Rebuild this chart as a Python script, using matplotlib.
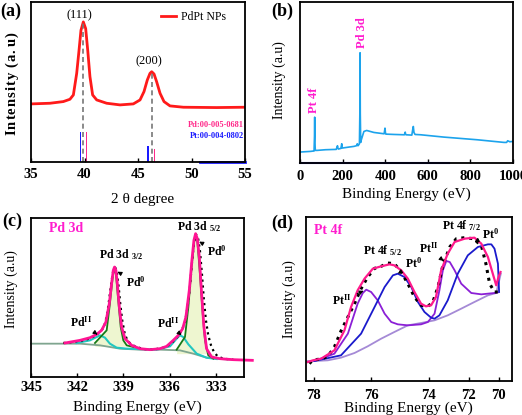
import matplotlib
matplotlib.use('Agg')
import matplotlib.pyplot as plt

plt.rcParams['font.family'] = ['Liberation Serif', 'DejaVu Serif']
plt.rcParams['font.weight'] = 'bold'
plt.rcParams['mathtext.fontset'] = 'custom'
plt.rcParams['mathtext.rm'] = 'Liberation Serif:bold'
plt.rcParams['mathtext.it'] = 'Liberation Serif:bold'
plt.rcParams['mathtext.bf'] = 'Liberation Serif:bold'

MAG = '#ff1dce'

# ---- (a) XRD ----
xrd_2theta = [35.0, 36.78, 38.02, 38.64, 38.96, 39.27, 39.49, 39.67, 39.89, 40.11, 40.30, 40.51,
              40.76, 41.14, 42.07, 43.32, 44.56, 45.19, 45.56, 45.87, 46.12, 46.28, 46.50, 46.74,
              47.06, 47.43, 47.99, 49.24, 52.35, 55.0]
xrd_int = [175, 177, 182, 189, 202, 267, 337, 397, 422, 402, 337, 257,
           202, 187, 177, 172, 175, 187, 212, 247, 267, 272, 265, 242,
           207, 182, 169, 165, 164, 165]
peak_pos = [39.89, 46.28]
peak_top = [420, 270]
peak_names = ['(111)', '(200)']
peak_label_pos = [(39.5, 442), (45.97, 302)]
pt_ref_pos = [39.61, 45.93]
pt_ref_int = [89, 49]
pd_ref_pos = [40.17, 46.53]
pd_ref_int = [90, 38]

# ---- (b) survey ----
survey_be = [0, 50, 62, 66, 68, 69, 70, 72, 80, 120, 170, 176, 178, 180, 192, 196, 198, 230, 253,
             265, 269, 272, 276, 279, 281, 282, 283, 285, 288, 300, 313, 347, 395, 399, 401,
             403, 441, 490, 494, 496, 498, 525, 529, 532, 535, 540, 567, 676, 832, 958, 970,
             975, 985, 1000]
survey_int = [33, 35, 36, 36, 80, 138, 60, 38, 38, 40, 41, 52, 45, 42, 44, 58, 45, 48, 50,
              52, 58, 52, 55, 58, 150, 332, 150, 62, 70, 95, 98, 92, 88, 105, 92,
              87, 86, 85, 93, 86, 85, 84, 100, 110, 92, 86, 85, 78, 70, 62, 62,
              67, 64, 65]

# ---- (c) Pd 3d ----
c_env_be = [342.79, 341.82, 341.17, 340.74, 340.42, 340.14, 339.92, 339.77, 339.66, 339.58, 339.49,
            339.40, 339.27, 339.12, 338.90, 338.47, 337.93, 337.28, 336.63, 336.20, 335.77, 335.44,
            335.16, 334.95, 334.73, 334.56, 334.43, 334.32, 334.21, 334.08, 333.93, 333.78, 333.61,
            333.28, 332.74, 331.88, 330.64]
c_env_int = [102, 110, 118, 128, 140, 165, 220, 280, 320, 330, 320,
             280, 210, 150, 115, 95, 85, 82, 85, 92, 110, 125,
             145, 180, 260, 350, 410, 430, 415, 360, 250, 150, 85,
             60, 55, 52, 50]
c_dat_be = [342.90, 342.47, 342.04, 341.61, 341.17, 340.85, 340.52, 340.26, 340.05, 339.88, 339.75,
            339.64, 339.53, 339.42, 339.31, 339.21, 339.08, 338.92, 338.73, 338.47, 338.15, 337.71,
            337.28, 336.85, 336.42, 336.09, 335.77, 335.51, 335.23, 335.01, 334.84, 334.69, 334.56,
            334.43, 334.30, 334.17, 334.04, 333.91, 333.78, 333.65, 333.50, 333.32, 333.13, 332.91,
            332.63, 332.31, 331.88]
c_dat_int = [102, 104, 107, 110, 116, 124, 135, 150, 190, 250, 295,
             325, 328, 310, 270, 220, 170, 130, 108, 97, 90, 84,
             82, 84, 88, 95, 107, 120, 138, 165, 210, 270, 340,
             400, 428, 420, 380, 310, 230, 170, 125, 95, 75, 63,
             57, 54, 52]
c_bg_be = [345.0, 341.82, 340.52, 339.23, 337.93, 336.63, 335.34, 334.47, 333.61, 332.74, 331.88]
c_bg_int = [100, 100, 95, 85, 82, 82, 80, 70, 58, 54, 52]
c_pd0a_be = [340.85, 340.09, 339.88, 339.70, 339.59, 339.49, 339.34, 339.18, 339.01, 338.79, 338.36]
c_pd0a_int = [102, 140, 220, 300, 325, 310, 230, 150, 110, 95, 90]
c_pd0b_be = [335.55, 335.01, 334.79, 334.58, 334.41, 334.32, 334.21, 334.04, 333.86, 333.71, 333.50,
             333.17]
c_pd0b_int = [82, 120, 210, 330, 410, 425, 410, 310, 190, 110, 65, 55]
c_pdii_be = [342.04, 341.17, 340.74, 340.52, 340.20, 339.88, 339.44, 338.79, 336.85, 335.98, 335.55,
             335.34, 335.12, 334.79, 334.25, 333.61, 332.96]
c_pdii_int = [102, 110, 120, 125, 118, 100, 88, 85, 82, 92, 115,
              125, 120, 98, 70, 58, 54]

# ---- (d) Pt 4f ----
d_bg_be = [78.21, 77.98, 77.51, 77.05, 76.58, 76.12, 75.65, 75.19, 74.72, 74.26, 73.79, 73.33, 72.86,
           72.40, 71.93, 71.64, 71.48]
d_bg_int = [60, 60, 62, 70, 84, 104, 127, 147, 167, 174, 182, 197, 217, 237, 257, 264, 322]
d_ptii_be = [77.98, 77.28, 76.81, 76.47, 76.29, 76.17, 76.00, 75.77, 75.53, 75.30, 75.07, 74.72, 74.26,
             74.02, 73.79, 73.62, 73.50, 73.38, 73.26, 73.09, 72.86, 72.51, 72.16, 71.70, 71.58]
d_ptii_int = [60, 82, 142, 232, 264, 274, 267, 242, 202, 177, 170, 167, 170,
              177, 202, 272, 332, 360, 357, 332, 292, 264, 260, 264, 266]
d_pt0_be = [77.98, 77.05, 76.35, 75.88, 75.53, 75.24, 75.07, 74.84, 74.60, 74.37, 74.14, 73.91, 73.79,
            73.62, 73.33, 72.98, 72.63, 72.28, 71.93, 71.81, 71.70, 71.58, 71.54]
d_pt0_int = [60, 77, 142, 222, 282, 317, 322, 312, 282, 237, 207, 190, 187,
             197, 242, 322, 377, 402, 410, 410, 397, 352, 267]
d_env_be = [78.21, 78.03, 77.74, 77.28, 76.93, 76.70, 76.47, 76.23, 75.94, 75.65, 75.36, 75.19, 74.95,
            74.72, 74.49, 74.26, 74.09, 73.91, 73.74, 73.56, 73.33, 73.09, 72.74, 72.40, 72.16, 71.93,
            71.76, 71.64, 71.56, 71.49]
d_env_int = [57, 62, 67, 92, 152, 222, 272, 307, 337, 344, 350, 347, 332,
             307, 267, 232, 224, 227, 252, 332, 382, 417, 427, 430, 412, 372, 322, 287, 312, 327]
d_dat_be = [78.15, 78.05, 77.95, 77.74, 77.51, 77.28, 77.05, 76.81, 76.58, 76.35, 76.12, 75.88, 75.65,
            75.42, 75.19, 74.95, 74.72, 74.49, 74.26, 74.02, 73.85, 73.67, 73.50, 73.26, 73.03, 72.74,
            72.45, 72.16, 72.00, 71.87, 71.70, 71.58]
d_dat_int = [52, 62, 64, 66, 74, 102, 150, 192, 232, 277, 312, 338, 344,
             354, 352, 327, 292, 252, 227, 224, 237, 282, 347, 402, 427, 430, 427, 407, 352, 292, 267, 267]
d_ticks = [78, 76, 74, 72.6, 71.56]
d_ticklabels = ['78', '76', '74', '72', '70']

fig = plt.figure(figsize=(5.22, 4.15), dpi=100)
arrow = dict(arrowstyle='-|>', color='black', lw=0.8, mutation_scale=6)

# letter-spaced y label of panel (a)
gap = r'\hspace{0.09}'
spaced_label = r'$\mathrm{' + gap.join('Intensity') + r'\ ' + gap.join('(a.u)') + '}$'

# ================= (a)
ax = fig.add_axes([31/522, 1-162/415, 214/522, 160/415])
ax.plot(xrd_2theta, xrd_int, color='#ff1a1a', lw=2, label='PdPt NPs')
for x, top in zip(peak_pos, peak_top):
    ax.plot([x, x], [0, top], color='#777777', ls=(0, (3, 2)), lw=1.2)
for (lx, ly), name in zip(peak_label_pos, peak_names):
    ax.text(lx, ly, name, ha='center', va='center', fontsize=9, fontweight='normal')
ax.bar(pt_ref_pos, pt_ref_int, width=0.12, color='#1a1aff')
ax.bar(pd_ref_pos, pd_ref_int, width=0.12, color='#ff2a8a')
ax.plot([50.8, 55], [0, 0], color='#1a1aff', lw=2, clip_on=False)
ax.text(54.9, 111, 'Pd:00-005-0681', color='#ff2a8a', fontsize=6, ha='right', va='center')
ax.text(54.9, 79, 'Pt:00-004-0802', color='#1a1aff', fontsize=6, ha='right', va='center')
ax.set_xlim(35, 55)
ax.set_ylim(0, 482)
ax.set_xticks([35, 40, 45, 50, 55])
ax.set_yticks([])
leg = ax.legend(loc='center right', bbox_to_anchor=(0.91, 0.906), frameon=False, fontsize=8.5,
                handlelength=1.3, borderaxespad=0, borderpad=0, handletextpad=0.4)
for t in leg.get_texts():
    t.set_fontweight('normal')
ax.set_xlabel('2 θ degree', fontsize=11)
ax.xaxis.set_label_coords(0.52, -0.194)
ax.set_ylabel(spaced_label, fontsize=10.5)
ax.yaxis.set_label_coords(-0.047, 0.49)
ax.tick_params(axis='x', pad=4.3)
fig.text(0.0, 1 - 3/415, '(a)', fontsize=13, va='top', ha='left')

# ================= (b)
ax = fig.add_axes([300/522, 1-163/415, 213/522, 161/415])
ax.plot(survey_be, survey_int, color='#1ca3ec', lw=1.2)
ax.plot([0, 700], [0, 0], color='#2222cc', lw=1.5, clip_on=False)
ax.text(65, 190, 'Pt 4f', color=MAG, rotation=90, fontsize=9, ha='center', va='center')
ax.text(293, 392, 'Pd 3d', color=MAG, rotation=90, fontsize=9, ha='center', va='center')
ax.set_xlim(0, 1000)
ax.set_ylim(0, 485)
ax.set_xticks([0, 200, 400, 600, 800, 1000])
ax.set_yticks([])
ax.set_xlabel('Binding Energy (eV)', fontsize=11)
ax.xaxis.set_label_coords(0.5, -0.155)
ax.set_ylabel('Intensity (a.u)', fontsize=10)
ax.yaxis.set_label_coords(-0.066, 0.515)
ax.tick_params(axis='x', pad=5)
fig.text(271/522, 1 - 3/415, '(b)', fontsize=13, va='top', ha='left')

# ================= (c)
ax = fig.add_axes([31/522, 1-377/415, 213/522, 159/415])
ax.fill_between(c_pd0a_be, c_pd0a_int, 92, color='#eef6d0', lw=0)
ax.fill_between(c_pd0b_be, c_pd0b_int, 70, color='#eef6d0', lw=0)
ax.plot(c_bg_be, c_bg_int, color='#7fa58f', lw=1.3, clip_on=False)
ax.plot(c_pdii_be, c_pdii_int, color='#22c7c0', lw=1.5)
ax.plot(c_pd0a_be, c_pd0a_int, color='#167a16', lw=1.3)
ax.plot(c_pd0b_be, c_pd0b_int, color='#167a16', lw=1.3)
ax.plot(c_dat_be, c_dat_int, ls=':', lw=1.6, color='black')
ax.plot(c_env_be, c_env_int, color='#ff1493', lw=2, clip_on=False)
ax.text(342.7, 447, 'Pd 3d', color=MAG, fontsize=10, ha='center', va='center')
ax.text(339.12, 368, 'Pd 3d $_{3/2}$', fontsize=8.5, ha='center', va='center')
ax.text(334.1, 450, 'Pd 3d $_{5/2}$', fontsize=8.5, ha='center', va='center')
ax.annotate('Pd$^{0}$', xy=(339.55, 320), xytext=(338.19, 285), fontsize=8.5, ha='center',
            va='center', arrowprops=arrow)
ax.annotate('Pd$^{0}$', xy=(334.25, 410), xytext=(332.96, 378), fontsize=8.5, ha='center',
            va='center', arrowprops=arrow)
ax.annotate('Pd$^{II}$', xy=(340.68, 127), xytext=(341.78, 165), fontsize=8.5, ha='center',
            va='center', arrowprops=arrow)
ax.annotate('Pd$^{II}$', xy=(335.23, 125), xytext=(336.09, 160), fontsize=8.5, ha='center',
            va='center', arrowprops=arrow)
ax.set_xlim(345, 331.18)
ax.set_ylim(0, 477)
ax.set_xticks([345, 342, 339, 336, 333])
ax.set_yticks([])
ax.set_xlabel('Binding Energy (eV)', fontsize=11)
ax.xaxis.set_label_coords(0.5, -0.145)
ax.set_ylabel('Intensity (a.u)', fontsize=10)
ax.yaxis.set_label_coords(-0.061, 0.553)
ax.tick_params(axis='x', pad=3)
fig.text(2/522, 1 - 213/415, '(c)', fontsize=13, va='top', ha='left')

# ================= (d)
ax = fig.add_axes([306/522, 1-381/415, 206/522, 164/415])
ax.plot(d_bg_be, d_bg_int, color='#a58ad6', lw=1.3)
ax.plot(d_ptii_be, d_ptii_int, color='#8b1fd6', lw=1.3)
ax.plot(d_pt0_be, d_pt0_int, color='#1a1acc', lw=1.3)
ax.plot(d_dat_be, d_dat_int, ls=(0, (1, 1.6)), lw=2.2, color='black')
ax.plot(d_env_be, d_env_int, color='#ff1a8c', lw=1.6)
ax.text(77.5, 452, 'Pt 4f', color=MAG, fontsize=10, ha='center', va='center')
ax.text(75.6, 392, 'Pt 4f $_{5/2}$', fontsize=8.5, ha='center', va='center')
ax.text(72.86, 467, 'Pt 4f $_{7/2}$', fontsize=8.5, ha='center', va='center')
ax.annotate('Pt$^{0}$', xy=(75.07, 322), xytext=(74.52, 352), fontsize=8.5, ha='center',
            va='center', arrowprops=arrow)
ax.annotate('Pt$^{0}$', xy=(72.40, 417), xytext=(71.85, 440), fontsize=8.5, ha='center',
            va='center', arrowprops=arrow)
ax.annotate('Pt$^{II}$', xy=(76.17, 274), xytext=(77.01, 242), fontsize=8.5, ha='center',
            va='center', arrowprops=arrow)
ax.annotate('Pt$^{II}$', xy=(73.47, 360), xytext=(74.0, 397), fontsize=8.5, ha='center',
            va='center', arrowprops=arrow)
ax.set_xlim(78.27, 71.09)
ax.set_ylim(0, 492)
ax.set_xticks(d_ticks)
ax.set_xticklabels(d_ticklabels)
ax.set_yticks([])
ax.set_xlabel('Binding Energy (eV)', fontsize=11)
ax.xaxis.set_label_coords(0.495, -0.125)
ax.set_ylabel('Intensity (a.u)', fontsize=10)
ax.yaxis.set_label_coords(-0.049, 0.5)
ax.tick_params(axis='x', pad=6)
fig.text(271/522, 1 - 215/415, '(d)', fontsize=13, va='top', ha='left')

for a in fig.axes:
    for s in a.spines.values():
        s.set_linewidth(1.3)
    a.tick_params(axis='x', labelsize=10.5, direction='in', length=3, width=1)

fig.savefig('out.png', dpi=100)
